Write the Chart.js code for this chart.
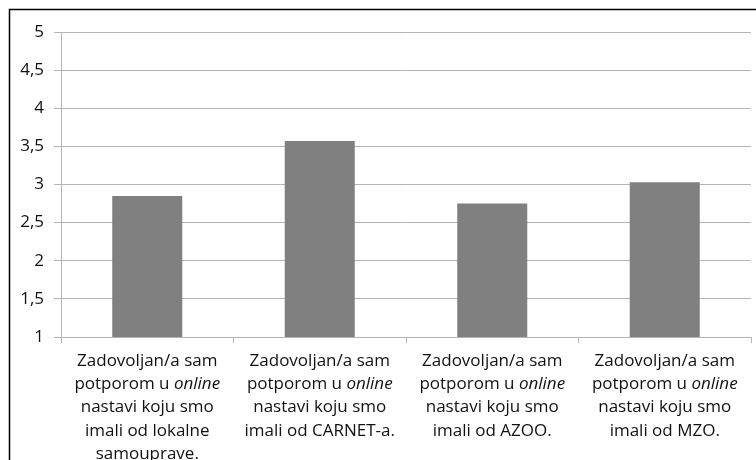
<!DOCTYPE html>
<html>
<head>
<meta charset="utf-8">
<script src="https://cdn.jsdelivr.net/npm/chart.js@4/dist/chart.umd.min.js"></script>
<style>
  html, body { margin: 0; padding: 0; background: #fff; }
  #wrap { width: 756px; height: 460px; position: relative; }
</style>
</head>
<body>
<div id="wrap"><canvas id="chart"></canvas></div>
<script>
// kategorije (po redovima), riječ "online" se piše kurzivom
const categories = [
    ['Zadovoljan/a sam', 'potporom u online', 'nastavi koju smo', 'imali od lokalne', 'samouprave.'],
    ['Zadovoljan/a sam', 'potporom u online', 'nastavi koju smo', 'imali od CARNET-a.'],
    ['Zadovoljan/a sam', 'potporom u online', 'nastavi koju smo', 'imali od AZOO.'],
    ['Zadovoljan/a sam', 'potporom u online', 'nastavi koju smo', 'imali od MZO.']
];
const italicWord = 'online';
const values = [2.85, 3.57, 2.75, 3.03];
const yTicks = [1, 1.5, 2, 2.5, 3, 3.5, 4, 4.5, 5];

const fontFamily = '"Open Sans", "Noto Sans", sans-serif';
const gridColor = '#b4b4b4';
const textColor = '#111';

// okvir oko grafikona
const framePlugin = {
    id: 'frame',
    beforeDraw(chart) {
        const ctx = chart.ctx;
        ctx.save();
        ctx.fillStyle = '#fff';
        ctx.fillRect(0, 0, chart.width, chart.height);
        ctx.strokeStyle = '#000';
        ctx.lineWidth = 1.5;
        ctx.strokeRect(9.5, 9.5, chart.width + 20, chart.height + 20);
        ctx.restore();
    }
};

// oznake kategorija s kurzivom za "online"
const labelPlugin = {
    id: 'mixedLabels',
    afterDraw(chart) {
        const ctx = chart.ctx;
        const x = chart.scales.x;
        const lineH = 23.3;
        const size = 17;
        const normal = size + 'px ' + fontFamily;
        const italic = 'italic ' + size + 'px ' + fontFamily;
        ctx.save();
        ctx.fillStyle = textColor;
        ctx.textBaseline = 'middle';
        ctx.textAlign = 'left';
        categories.forEach((lines, i) => {
            const cx = x.getPixelForTick(i);
            lines.forEach((line, j) => {
                const y = x.top + 24 + j * lineH;
                const parts = line.split(italicWord);
                const segs = [];
                parts.forEach((p, k) => {
                    if (p) segs.push({ t: p, f: normal });
                    if (k < parts.length - 1) segs.push({ t: italicWord, f: italic });
                });
                let total = 0;
                segs.forEach(s => { ctx.font = s.f; s.w = ctx.measureText(s.t).width; total += s.w; });
                let px = cx - total / 2;
                segs.forEach(s => {
                    ctx.font = s.f;
                    ctx.fillText(s.t, px, y);
                    px += s.w;
                });
            });
        });
        ctx.restore();
    }
};

new Chart(document.getElementById('chart'), {
    type: 'bar',
    data: {
        labels: categories,
        datasets: [{
            data: values,
            backgroundColor: '#808080',
            borderWidth: 0,
            barPercentage: 0.406,
            categoryPercentage: 1
        }]
    },
    options: {
        responsive: true,
        maintainAspectRatio: false,
        animation: false,
        layout: { padding: { top: 32, right: 5, left: 0, bottom: 0 } },
        plugins: {
            legend: { display: false },
            tooltip: { enabled: false }
        },
        scales: {
            x: {
                offset: true,
                grid: {
                    offset: true,
                    drawOnChartArea: false,
                    drawTicks: true,
                    tickLength: 6,
                    color: gridColor
                },
                border: { color: gridColor },
                ticks: {
                    color: 'transparent',
                    maxRotation: 0,
                    font: { family: fontFamily, size: 16 }
                },
                afterFit: scale => { scale.height = 123; }
            },
            y: {
                min: 1,
                max: 5,
                afterBuildTicks: scale => {
                    scale.ticks = yTicks.map(v => ({ value: v }));
                },
                grid: {
                    color: gridColor,
                    tickLength: 7
                },
                border: { color: gridColor },
                ticks: {
                    color: textColor,
                    padding: 10,
                    font: { family: fontFamily, size: 17 },
                    callback: v => String(v).replace('.', ',')
                },
                afterFit: scale => { scale.width = 61; }
            }
        }
    },
    plugins: [framePlugin, labelPlugin]
});
</script>
</body>
</html>
